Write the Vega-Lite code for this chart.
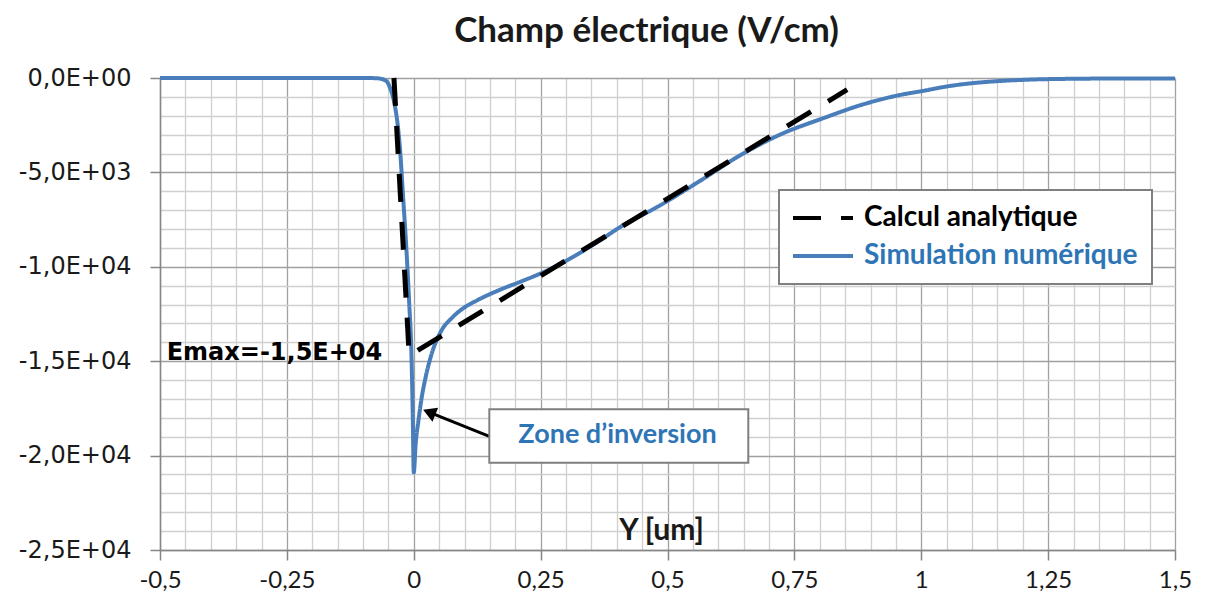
{
  "$schema": "https://vega.github.io/schema/vega-lite/v6.json",
  "width": 1015,
  "height": 472,
  "autosize": {"type": "none"},
  "padding": {"left": 160, "top": 78, "right": 38, "bottom": 47},
  "background": "white",
  "config": {"view": {"stroke": null}},
  "title": {"text": "Champ électrique (V/cm)", "font": "Lato", "fontSize": 35, "fontWeight": "bold", "color": "#1a1a1a", "anchor": "middle", "offset": 17, "dx": -21},
  "resolve": {"axis": {"x": "independent", "y": "independent"}},
  "datasets": {
    "champ": [
      {"x": -0.5, "E": 0, "serie": "Simulation numérique"},
      {"x": -0.3, "E": 0, "serie": "Simulation numérique"},
      {"x": -0.1, "E": 0, "serie": "Simulation numérique"},
      {"x": -0.075, "E": -10, "serie": "Simulation numérique"},
      {"x": -0.065, "E": -40, "serie": "Simulation numérique"},
      {"x": -0.058, "E": -100, "serie": "Simulation numérique"},
      {"x": -0.052, "E": -220, "serie": "Simulation numérique"},
      {"x": -0.047, "E": -500, "serie": "Simulation numérique"},
      {"x": -0.042, "E": -900, "serie": "Simulation numérique"},
      {"x": -0.037, "E": -1500, "serie": "Simulation numérique"},
      {"x": -0.032, "E": -2400, "serie": "Simulation numérique"},
      {"x": -0.027, "E": -3800, "serie": "Simulation numérique"},
      {"x": -0.021, "E": -6300, "serie": "Simulation numérique"},
      {"x": -0.014, "E": -9300, "serie": "Simulation numérique"},
      {"x": -0.009, "E": -11900, "serie": "Simulation numérique"},
      {"x": -0.0045, "E": -14700, "serie": "Simulation numérique"},
      {"x": -0.002, "E": -17800, "serie": "Simulation numérique"},
      {"x": 0, "E": -20900, "serie": "Simulation numérique"},
      {"x": 0.004, "E": -19300, "serie": "Simulation numérique"},
      {"x": 0.009, "E": -18200, "serie": "Simulation numérique"},
      {"x": 0.0152, "E": -17000, "serie": "Simulation numérique"},
      {"x": 0.0222, "E": -16000, "serie": "Simulation numérique"},
      {"x": 0.0354, "E": -14600, "serie": "Simulation numérique"},
      {"x": 0.052, "E": -13500, "serie": "Simulation numérique"},
      {"x": 0.0773, "E": -12650, "serie": "Simulation numérique"},
      {"x": 0.1, "E": -12150, "serie": "Simulation numérique"},
      {"x": 0.1246, "E": -11780, "serie": "Simulation numérique"},
      {"x": 0.1759, "E": -11150, "serie": "Simulation numérique"},
      {"x": 0.2094, "E": -10800, "serie": "Simulation numérique"},
      {"x": 0.2744, "E": -10050, "serie": "Simulation numérique"},
      {"x": 0.367, "E": -8600, "serie": "Simulation numérique"},
      {"x": 0.4064, "E": -7900, "serie": "Simulation numérique"},
      {"x": 0.4852, "E": -6750, "serie": "Simulation numérique"},
      {"x": 0.564, "E": -5450, "serie": "Simulation numérique"},
      {"x": 0.6429, "E": -4100, "serie": "Simulation numérique"},
      {"x": 0.7217, "E": -3000, "serie": "Simulation numérique"},
      {"x": 0.81, "E": -2100, "serie": "Simulation numérique"},
      {"x": 0.879, "E": -1450, "serie": "Simulation numérique"},
      {"x": 0.958, "E": -900, "serie": "Simulation numérique"},
      {"x": 1.0, "E": -700, "serie": "Simulation numérique"},
      {"x": 1.057, "E": -420, "serie": "Simulation numérique"},
      {"x": 1.102, "E": -270, "serie": "Simulation numérique"},
      {"x": 1.155, "E": -160, "serie": "Simulation numérique"},
      {"x": 1.22, "E": -80, "serie": "Simulation numérique"},
      {"x": 1.287, "E": -45, "serie": "Simulation numérique"},
      {"x": 1.4, "E": -25, "serie": "Simulation numérique"},
      {"x": 1.5, "E": -20, "serie": "Simulation numérique"},
      {"x": -0.039, "E": 0, "serie": "Calcul analytique"},
      {"x": -0.009, "E": -14700, "serie": "Calcul analytique"},
      {"x": 0.854, "E": -620, "serie": "Calcul analytique"}
    ],
    "annot": [{"label": "Zone d’inversion"}]
  },
  "layer": [
    {
      "data": {"name": "champ"},
      "transform": [{"filter": "datum.serie == 'Simulation numérique'"}],
      "mark": {"type": "line", "strokeWidth": 4, "interpolate": "monotone"},
      "encoding": {
        "x": {
          "field": "x", "type": "quantitative", "title": "Y [um]",
          "scale": {"domain": [-0.5, 1.5], "nice": false, "zero": false},
          "axis": {
            "values": [-0.5,-0.45,-0.4,-0.35,-0.3,-0.25,-0.2,-0.15,-0.1,-0.05,0,0.05,0.1,0.15,0.2,0.25,0.3,0.35,0.4,0.45,0.5,0.55,0.6,0.65,0.7,0.75,0.8,0.85,0.9,0.95,1,1.05,1.1,1.15,1.2,1.25,1.3,1.35,1.4,1.45,1.5],
            "labelExpr": "abs(datum.value*4 - round(datum.value*4)) < 0.001 ? replace(toString(datum.value), '.', ',') : ''",
            "labelOverlap": false, "labelFlush": false, "labelBound": false,
            "labelFont": "Lato", "labelFontSize": 24, "labelColor": "#1a1a1a", "labelPadding": 8,
            "tickSize": 10, "tickColor": "#868686", "tickWidth": 1.5,
            "tickOpacity": {"condition": {"test": "abs(datum.value*4 - round(datum.value*4)) < 0.001", "value": 1}, "value": 0},
            "gridColor": {"condition": {"test": "abs(datum.value*4 - round(datum.value*4)) < 0.001", "value": "#a0a0a0"}, "value": "#cfcfcf"},
            "gridWidth": 1.3,
            "domainColor": "#868686", "domainWidth": 1.5,
            "titleFont": "Lato", "titleFontSize": 30, "titleFontWeight": "bold", "titleColor": "#1a1a1a",
            "titleY": -20, "titleX": 501, "titleBaseline": "middle"
          }
        },
        "y": {
          "field": "E", "type": "quantitative", "title": null,
          "scale": {"domain": [-25000, 0], "nice": false, "zero": false},
          "axis": {
            "values": [-25000,-24000,-23000,-22000,-21000,-20000,-19000,-18000,-17000,-16000,-15000,-14000,-13000,-12000,-11000,-10000,-9000,-8000,-7000,-6000,-5000,-4000,-3000,-2000,-1000,0],
            "labelExpr": "datum.value == 0 ? '0,0E+00' : datum.value == -5000 ? '-5,0E+03' : datum.value == -10000 ? '-1,0E+04' : datum.value == -15000 ? '-1,5E+04' : datum.value == -20000 ? '-2,0E+04' : datum.value == -25000 ? '-2,5E+04' : ''",
            "labelOverlap": false, "labelFlush": false, "labelBound": false,
            "labelFont": "DejaVu Sans", "labelFontSize": 24, "labelColor": "#1a1a1a", "labelPadding": 19,
            "tickSize": 10, "tickColor": "#868686", "tickWidth": 1.5,
            "tickOpacity": {"condition": {"test": "datum.value % 5000 == 0", "value": 1}, "value": 0},
            "gridColor": {"condition": {"test": "datum.value % 5000 == 0", "value": "#a0a0a0"}, "value": "#cfcfcf"},
            "gridWidth": 1.3,
            "domainColor": "#868686", "domainWidth": 1.5
          }
        },
        "color": {
          "field": "serie", "type": "nominal",
          "scale": {"domain": ["Calcul analytique", "Simulation numérique"], "range": ["#000000", "#4a7ebb"]},
          "legend": {
            "title": null, "orient": "none", "legendX": 619, "legendY": 112,
            "fillColor": "white", "strokeColor": "#808080", "padding": 14,
            "symbolType": "M-3,0H3", "symbolSize": 400, "symbolStrokeWidth": 4,
            "labelFont": "Lato", "labelFontSize": 28, "labelFontWeight": "bold", "labelOffset": 43,
            "rowPadding": 10, "labelLimit": 400,
            "encode": {
              "labels": {"update": {"fill": {"signal": "datum.value === 'Calcul analytique' ? '#000000' : '#2e75b6'"}}},
              "symbols": {"update": {
                "x": {"value": 30},
                "strokeDash": {"signal": "datum.value === 'Calcul analytique' ? [12, 16] : [1, 0]"}
              }},
              "legend": {"update": {"strokeWidth": {"value": 2}}}
            }
          }
        },
        "strokeDash": {
          "field": "serie", "type": "nominal",
          "scale": {"domain": ["Calcul analytique", "Simulation numérique"], "range": [[28, 20], [1, 0]]},
          "legend": null
        }
      }
    },
    {
      "data": {"name": "champ"},
      "transform": [{"filter": "datum.serie == 'Calcul analytique'"}],
      "mark": {"type": "line", "strokeWidth": 5, "strokeCap": "butt"},
      "encoding": {
        "x": {"field": "x", "type": "quantitative", "axis": null},
        "y": {"field": "E", "type": "quantitative", "axis": null},
        "color": {"field": "serie", "type": "nominal", "legend": null},
        "strokeDash": {"field": "serie", "type": "nominal", "legend": null}
      }
    },
    {
      "data": {"name": "annot"},
      "mark": {"type": "text", "text": "Emax=-1,5E+04", "font": "DejaVu Sans", "fontSize": 24, "fontWeight": "bold", "align": "left", "baseline": "middle", "color": "#000000"},
      "encoding": {"x": {"datum": -0.4868, "type": "quantitative", "axis": null}, "y": {"datum": -14566, "type": "quantitative", "axis": null}}
    },
    {
      "data": {"name": "annot"},
      "mark": {"type": "rule", "color": "#000000", "strokeWidth": 3},
      "encoding": {"x": {"datum": 0.1502, "type": "quantitative", "axis": null}, "y": {"datum": -18999, "type": "quantitative", "axis": null}, "x2": {"datum": 0.0298}, "y2": {"datum": -17701}}
    },
    {
      "data": {"name": "annot"},
      "mark": {"type": "point", "shape": "triangle-up", "filled": true, "color": "#000000", "size": 230, "angle": 292, "opacity": 1},
      "encoding": {"x": {"datum": 0.0305, "type": "quantitative", "axis": null}, "y": {"datum": -17705, "type": "quantitative", "axis": null}}
    },
    {
      "data": {"name": "annot"},
      "mark": {"type": "rect", "fill": "white", "stroke": "#7f7f7f", "strokeWidth": 2},
      "encoding": {"x": {"datum": 0.1489, "type": "quantitative", "axis": null}, "x2": {"datum": 0.6592}, "y": {"datum": -17548, "type": "quantitative", "axis": null}, "y2": {"datum": -20376}}
    },
    {
      "data": {"name": "annot"},
      "mark": {"type": "text", "font": "Lato", "fontSize": 27, "fontWeight": "bold", "align": "center", "baseline": "middle", "color": "#2e75b6"},
      "encoding": {"x": {"datum": 0.4015, "type": "quantitative", "axis": null}, "y": {"datum": -18909, "type": "quantitative", "axis": null}, "text": {"field": "label"}}
    }
  ]
}
